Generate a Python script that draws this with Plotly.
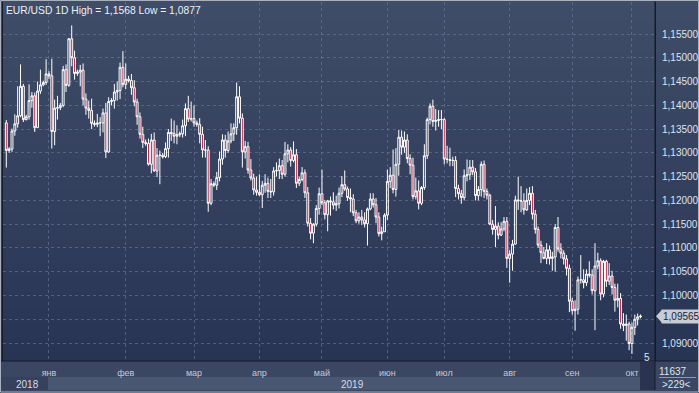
import plotly.graph_objects as go

# ---------------- data ----------------
# trading sessions (broker feed has short Sunday sessions until mid-March)
DAYS_2018_12 = [14, 16, 17, 18, 19, 20, 21, 23, 24, 25, 26, 27, 28, 30, 31]
DAYS_2019_01 = [1, 2, 3, 4, 6, 7, 8, 9, 10, 11, 13, 14, 15, 16, 17, 18, 20, 21, 22, 23, 24, 25, 27, 28, 29, 30, 31]
DAYS_2019_02 = [1, 3, 4, 5, 6, 7, 8, 10, 11, 12, 13, 14, 15, 17, 18, 19, 20, 21, 22, 24, 25, 26, 27, 28]
DAYS_2019_03 = [1, 3, 4, 5, 6, 7, 8, 10, 11, 12, 13, 14, 15, 18, 19, 20, 21, 22, 25, 26, 27, 28, 29]
DAYS_2019_04 = [1, 2, 3, 4, 5, 8, 9, 10, 11, 12, 15, 16, 17, 18, 19, 22, 23, 24, 25, 26, 29, 30]
DAYS_2019_05 = [1, 2, 3, 6, 7, 8, 9, 10, 13, 14, 15, 16, 17, 20, 21, 22, 23, 24, 27, 28, 29, 30, 31]
DAYS_2019_06 = [3, 4, 5, 6, 7, 10, 11, 12, 13, 14, 17, 18, 19, 20, 21, 24, 25, 26, 27, 28]
DAYS_2019_07 = [1, 2, 3, 4, 5, 8, 9, 10, 11, 12, 15, 16, 17, 18, 19, 22, 23, 24, 25, 26, 29, 30, 31]
DAYS_2019_08 = [1, 2, 5, 6, 7, 8, 9, 12, 13, 14, 15, 16, 19, 20, 21, 22, 23, 26, 27, 28, 29, 30]
DAYS_2019_09 = [2, 3, 4, 5, 6, 9, 10, 11, 12, 13, 16, 17, 18, 19, 20, 23, 24, 25, 26, 27, 30]
DAYS_2019_10 = [1, 2, 3, 4]

OPEN = [
    1.1363, 1.1305, 1.1308, 1.1346, 1.1361, 1.1378, 1.1440, 1.1370, 1.1376, 1.1410, 1.1420, 1.1353, 1.1430, 1.1443, 1.1448,
    1.1466, 1.1462, 1.1345, 1.1394, 1.1395, 1.1400, 1.1475, 1.1442, 1.1540, 1.1500, 1.1467, 1.1470, 1.1474, 1.1413, 1.1394,
    1.1389, 1.1362, 1.1360, 1.1363, 1.1363, 1.1384, 1.1302, 1.1408, 1.1410, 1.1428, 1.1431, 1.1480,
    1.1444, 1.1455, 1.1452, 1.1437, 1.1407, 1.1376, 1.1339, 1.1322, 1.1320, 1.1276, 1.1327, 1.1262, 1.1295, 1.1295, 1.1292,
    1.1309, 1.1343, 1.1341, 1.1335, 1.1338, 1.1340, 1.1357, 1.1393, 1.1371,
    1.1372, 1.1363, 1.1360, 1.1339, 1.1306, 1.1306, 1.1194, 1.1235, 1.1232, 1.1248, 1.1287, 1.1327, 1.1305, 1.1325, 1.1340,
    1.1353, 1.1418, 1.1373, 1.1302, 1.1313, 1.1264, 1.1247, 1.1222,
    1.1217, 1.1212, 1.1232, 1.1236, 1.1219, 1.1218, 1.1262, 1.1263, 1.1273, 1.1255, 1.1298, 1.1306, 1.1284, 1.1296, 1.1236,
    1.1244, 1.1258, 1.1216, 1.1152, 1.1131, 1.1150, 1.1183,
    1.1214, 1.1195, 1.1170, 1.1199, 1.1197, 1.1190, 1.1193, 1.1215, 1.1233, 1.1224, 1.1206, 1.1203, 1.1174, 1.1157, 1.1165,
    1.1159, 1.1151, 1.1182, 1.1203, 1.1191, 1.1165, 1.1130, 1.1134,
    1.1169, 1.1240, 1.1253, 1.1223, 1.1276, 1.1333, 1.1312, 1.1327, 1.1288, 1.1274, 1.1208, 1.1220, 1.1194, 1.1227, 1.1294,
    1.1370, 1.1398, 1.1366, 1.1368, 1.1370,
    1.1370, 1.1287, 1.1286, 1.1284, 1.1284, 1.1225, 1.1214, 1.1206, 1.1252, 1.1254, 1.1270, 1.1260, 1.1210, 1.1223, 1.1276,
    1.1219, 1.1211, 1.1150, 1.1139, 1.1146, 1.1127, 1.1140, 1.1156,
    1.1078, 1.1087, 1.1108, 1.1201, 1.1199, 1.1199, 1.1180, 1.1200, 1.1215, 1.1171, 1.1139, 1.1106, 1.1090, 1.1078, 1.1096,
    1.1078, 1.1081, 1.1143, 1.1098, 1.1089, 1.1077, 1.1057,
    1.0988, 1.0968, 1.0971, 1.1033, 1.1033, 1.1027, 1.1045, 1.1043, 1.1010, 1.1062, 1.1073, 1.1003, 1.1072, 1.1030, 1.1041,
    1.1017, 1.0990, 1.0994, 1.0940, 1.0937, 1.0940,
    1.0899, 1.0933, 1.0950, 1.0955,
]
HIGH = [
    1.1369, 1.1312, 1.1351, 1.1381, 1.1440, 1.1486, 1.1445, 1.1380, 1.1444, 1.1428, 1.1427, 1.1450, 1.1475, 1.1452, 1.1497,
    1.1472, 1.1498, 1.1412, 1.1420, 1.1405, 1.1483, 1.1486, 1.1541, 1.1568, 1.1515, 1.1475, 1.1485, 1.1488, 1.1425, 1.1410,
    1.1414, 1.1368, 1.1382, 1.1375, 1.1393, 1.1405, 1.1417, 1.1415, 1.1445, 1.1450, 1.1490, 1.1514,
    1.1488, 1.1462, 1.1466, 1.1453, 1.1414, 1.1385, 1.1355, 1.1328, 1.1330, 1.1340, 1.1343, 1.1310, 1.1305, 1.1300, 1.1322,
    1.1350, 1.1372, 1.1368, 1.1358, 1.1345, 1.1370, 1.1404, 1.1420, 1.1408,
    1.1400, 1.1368, 1.1373, 1.1355, 1.1327, 1.1314, 1.1245, 1.1240, 1.1260, 1.1303, 1.1339, 1.1338, 1.1345, 1.1362, 1.1362,
    1.1448, 1.1440, 1.1383, 1.1325, 1.1323, 1.1287, 1.1256, 1.1250,
    1.1255, 1.1241, 1.1255, 1.1248, 1.1245, 1.1270, 1.1280, 1.1288, 1.1285, 1.1323, 1.1318, 1.1312, 1.1324, 1.1308, 1.1250,
    1.1270, 1.1265, 1.1228, 1.1163, 1.1152, 1.1190, 1.1227,
    1.1265, 1.1201, 1.1201, 1.1208, 1.1217, 1.1210, 1.1227, 1.1251, 1.1263, 1.1229, 1.1225, 1.1213, 1.1180, 1.1175, 1.1180,
    1.1175, 1.1185, 1.1215, 1.1215, 1.1205, 1.1175, 1.1145, 1.1173,
    1.1265, 1.1270, 1.1307, 1.1310, 1.1348, 1.1347, 1.1345, 1.1339, 1.1297, 1.1290, 1.1248, 1.1242, 1.1230, 1.1318, 1.1374,
    1.1404, 1.1412, 1.1392, 1.1390, 1.1390,
    1.1373, 1.1315, 1.1311, 1.1292, 1.1293, 1.1233, 1.1222, 1.1265, 1.1286, 1.1285, 1.1285, 1.1268, 1.1230, 1.1282, 1.1284,
    1.1225, 1.1214, 1.1159, 1.1188, 1.1154, 1.1154, 1.1165, 1.1165,
    1.1095, 1.1117, 1.1210, 1.1250, 1.1230, 1.1215, 1.1225, 1.1228, 1.1230, 1.1180, 1.1145, 1.1115, 1.1102, 1.1110, 1.1105,
    1.1092, 1.1150, 1.1165, 1.1110, 1.1095, 1.1085, 1.1065,
    1.0995, 1.0990, 1.1040, 1.1085, 1.1055, 1.1055, 1.1072, 1.1055, 1.1110, 1.1090, 1.1078, 1.1075, 1.1075, 1.1068, 1.1052,
    1.1025, 1.1025, 1.1005, 1.0963, 1.0960, 1.0945,
    1.0943, 1.0960, 1.0962, 1.0960,
]
LOW = [
    1.1269, 1.1300, 1.1302, 1.1336, 1.1353, 1.1375, 1.1365, 1.1368, 1.1370, 1.1395, 1.1344, 1.1353, 1.1424, 1.1440, 1.1443,
    1.1455, 1.1309, 1.1316, 1.1370, 1.1390, 1.1396, 1.1428, 1.1439, 1.1482, 1.1454, 1.1462, 1.1440, 1.1400, 1.1380, 1.1372,
    1.1350, 1.1355, 1.1354, 1.1335, 1.1343, 1.1289, 1.1300, 1.1400, 1.1393, 1.1410, 1.1413, 1.1438,
    1.1434, 1.1448, 1.1422, 1.1398, 1.1359, 1.1330, 1.1310, 1.1315, 1.1273, 1.1257, 1.1260, 1.1249, 1.1234, 1.1288, 1.1289,
    1.1290, 1.1325, 1.1320, 1.1318, 1.1333, 1.1332, 1.1335, 1.1365, 1.1366,
    1.1355, 1.1355, 1.1320, 1.1290, 1.1290, 1.1176, 1.1190, 1.1228, 1.1222, 1.1240, 1.1275, 1.1290, 1.1300, 1.1320, 1.1325,
    1.1338, 1.1362, 1.1269, 1.1288, 1.1256, 1.1242, 1.1212, 1.1210,
    1.1209, 1.1184, 1.1216, 1.1205, 1.1205, 1.1210, 1.1250, 1.1245, 1.1245, 1.1250, 1.1280, 1.1271, 1.1280, 1.1226, 1.1230,
    1.1240, 1.1205, 1.1145, 1.1118, 1.1110, 1.1145, 1.1170,
    1.1190, 1.1160, 1.1135, 1.1168, 1.1181, 1.1178, 1.1183, 1.1207, 1.1220, 1.1199, 1.1175, 1.1167, 1.1152, 1.1151, 1.1148,
    1.1143, 1.1105, 1.1179, 1.1185, 1.1152, 1.1124, 1.1116, 1.1134,
    1.1159, 1.1226, 1.1215, 1.1208, 1.1252, 1.1296, 1.1300, 1.1278, 1.1255, 1.1202, 1.1202, 1.1181, 1.1190, 1.1222, 1.1287,
    1.1360, 1.1355, 1.1347, 1.1355, 1.1350,
    1.1276, 1.1278, 1.1272, 1.1272, 1.1207, 1.1202, 1.1193, 1.1200, 1.1240, 1.1243, 1.1253, 1.1200, 1.1200, 1.1208, 1.1205,
    1.1202, 1.1148, 1.1128, 1.1102, 1.1118, 1.1125, 1.1135, 1.1058,
    1.1027, 1.1052, 1.1107, 1.1180, 1.1175, 1.1170, 1.1178, 1.1190, 1.1160, 1.1130, 1.1100, 1.1068, 1.1076, 1.1066, 1.1065,
    1.1052, 1.1050, 1.1092, 1.1078, 1.1065, 1.1042, 1.0965,
    1.0960, 1.0926, 1.0960, 1.1025, 1.1015, 1.1020, 1.1038, 1.1002, 1.0927, 1.1055, 1.0990, 1.0996, 1.1018, 1.1022, 1.1002,
    1.0966, 1.0975, 1.0930, 1.0925, 1.0905, 1.0885,
    1.0877, 1.0917, 1.0937, 1.0952,
]
CLOSE = [
    1.1305, 1.1308, 1.1346, 1.1361, 1.1378, 1.1440, 1.1370, 1.1376, 1.1410, 1.1420, 1.1353, 1.1430, 1.1443, 1.1448, 1.1466,
    1.1462, 1.1345, 1.1394, 1.1395, 1.1400, 1.1475, 1.1442, 1.1540, 1.1500, 1.1467, 1.1470, 1.1474, 1.1413, 1.1394, 1.1389,
    1.1362, 1.1360, 1.1363, 1.1363, 1.1384, 1.1302, 1.1408, 1.1410, 1.1428, 1.1431, 1.1480, 1.1444,
    1.1455, 1.1452, 1.1437, 1.1407, 1.1376, 1.1339, 1.1322, 1.1320, 1.1276, 1.1327, 1.1262, 1.1295, 1.1295, 1.1292, 1.1309,
    1.1343, 1.1341, 1.1335, 1.1338, 1.1340, 1.1357, 1.1393, 1.1371, 1.1372,
    1.1363, 1.1360, 1.1339, 1.1306, 1.1306, 1.1194, 1.1235, 1.1232, 1.1248, 1.1287, 1.1327, 1.1305, 1.1325, 1.1340, 1.1353,
    1.1418, 1.1373, 1.1302, 1.1313, 1.1264, 1.1247, 1.1222, 1.1217,
    1.1212, 1.1232, 1.1236, 1.1219, 1.1218, 1.1262, 1.1263, 1.1273, 1.1255, 1.1298, 1.1306, 1.1284, 1.1296, 1.1236, 1.1244,
    1.1258, 1.1216, 1.1152, 1.1131, 1.1150, 1.1183, 1.1214,
    1.1195, 1.1170, 1.1199, 1.1197, 1.1190, 1.1193, 1.1215, 1.1233, 1.1224, 1.1206, 1.1203, 1.1174, 1.1157, 1.1165, 1.1159,
    1.1151, 1.1182, 1.1203, 1.1191, 1.1165, 1.1130, 1.1134, 1.1169,
    1.1240, 1.1253, 1.1223, 1.1276, 1.1333, 1.1312, 1.1327, 1.1288, 1.1274, 1.1208, 1.1220, 1.1194, 1.1227, 1.1294, 1.1370,
    1.1398, 1.1366, 1.1368, 1.1370, 1.1370,
    1.1287, 1.1286, 1.1284, 1.1284, 1.1225, 1.1214, 1.1206, 1.1252, 1.1254, 1.1270, 1.1260, 1.1210, 1.1223, 1.1276, 1.1219,
    1.1211, 1.1150, 1.1139, 1.1146, 1.1127, 1.1140, 1.1156, 1.1078,
    1.1087, 1.1108, 1.1201, 1.1199, 1.1199, 1.1180, 1.1200, 1.1215, 1.1171, 1.1139, 1.1106, 1.1090, 1.1078, 1.1096, 1.1078,
    1.1081, 1.1143, 1.1098, 1.1089, 1.1077, 1.1057, 1.0988,
    1.0968, 1.0971, 1.1033, 1.1033, 1.1027, 1.1045, 1.1043, 1.1010, 1.1062, 1.1073, 1.1003, 1.1072, 1.1030, 1.1041, 1.1017,
    1.0990, 1.0994, 1.0940, 1.0937, 1.0940, 1.0899,
    1.0933, 1.0950, 1.0955, 1.09565,
]

MONTH_TICKS = ["2019-01-01", "2019-02-01", "2019-03-01", "2019-04-01", "2019-05-01",
               "2019-06-03", "2019-07-01", "2019-08-01", "2019-09-02", "2019-10-01"]
MONTH_LABELS = ["янв", "фев", "мар", "апр", "май", "июн", "июл", "авг", "сен", "окт"]
PRICE_TICKS = [1.090, 1.095, 1.100, 1.105, 1.110, 1.115, 1.120, 1.125, 1.130, 1.135,
               1.140, 1.145, 1.150, 1.155]
PRICE_LABELS = ["1,09000", "", "1,10000", "1,10500", "1,11000", "1,11500", "1,12000", "1,12500",
                "1,13000", "1,13500", "1,14000", "1,14500", "1,15000", "1,15500"]
LAST_PRICE = 1.09565
TITLE = "EUR/USD 1D High = 1,1568 Low = 1,0877"

# ---------------- build ----------------
DATES = []
for prefix, days in [("2018-12", DAYS_2018_12), ("2019-01", DAYS_2019_01), ("2019-02", DAYS_2019_02),
                     ("2019-03", DAYS_2019_03), ("2019-04", DAYS_2019_04), ("2019-05", DAYS_2019_05),
                     ("2019-06", DAYS_2019_06), ("2019-07", DAYS_2019_07), ("2019-08", DAYS_2019_08),
                     ("2019-09", DAYS_2019_09), ("2019-10", DAYS_2019_10)]:
    DATES += [f"{prefix}-{d:02d}" for d in days]

n = min(len(DATES), len(OPEN), len(HIGH), len(LOW), len(CLOSE))

W, H = 699, 393
ML, MR, MT, MB = 3, 44, 2, 32
PW, PH = W - ML - MR, H - MT - MB


def px(x):  # pixel -> paper x
    return (x - ML) / PW


def py(y):  # pixel -> paper y
    return (H - MB - y) / PH


fig = go.Figure()
fig.add_trace(go.Candlestick(
    x=DATES[:n], open=OPEN[:n], high=HIGH[:n], low=LOW[:n], close=CLOSE[:n],
    increasing=dict(line=dict(color="#ffffff", width=1), fillcolor="rgba(0,0,0,0)"),
    decreasing=dict(line=dict(color="#ffffff", width=1), fillcolor="#b8163e"),
    whiskerwidth=0, showlegend=False, hoverinfo="skip",
))

shapes = []
# background gradient (plot area + right price panel)
top = (64, 77, 104)
bot = (40, 52, 84)
N = 48
step = (H - MB) / N
for i in range(N):
    t = i / (N - 1)
    c = tuple(round(top[k] + (bot[k] - top[k]) * t) for k in range(3))
    shapes.append(dict(type="rect", xref="paper", yref="paper",
                       x0=px(0), x1=px(W), y0=py(i * step), y1=py((i + 1) * step + 0.5),
                       fillcolor="rgb(%d,%d,%d)" % c, line=dict(width=0), layer="below"))
# bottom time-axis area
shapes += [
    dict(type="rect", xref="paper", yref="paper", x0=px(0), x1=px(655), y0=py(361), y1=py(377),
         fillcolor="#3b4762", line=dict(width=0), layer="below"),
    dict(type="rect", xref="paper", yref="paper", x0=px(0), x1=px(48), y0=py(377), y1=py(390),
         fillcolor="#36425c", line=dict(width=0), layer="below"),
    dict(type="rect", xref="paper", yref="paper", x0=px(48), x1=px(640), y0=py(377), y1=py(390),
         fillcolor="#4a5772", line=dict(width=0), layer="below"),
    dict(type="rect", xref="paper", yref="paper", x0=px(640), x1=px(655), y0=py(362), y1=py(390),
         fillcolor="#2a3450", line=dict(width=0), layer="below"),
    dict(type="rect", xref="paper", yref="paper", x0=px(655), x1=px(W), y0=py(361), y1=py(390),
         fillcolor="#3b4762", line=dict(width=0), layer="below"),
    dict(type="line", xref="paper", yref="paper", x0=px(0), x1=px(W), y0=py(361), y1=py(361),
         line=dict(color="#151b29", width=1)),
    dict(type="line", xref="paper", yref="paper", x0=px(655), x1=px(655), y0=py(0), y1=py(390),
         line=dict(color="#151b29", width=1)),
    dict(type="line", xref="paper", yref="paper", x0=px(659), x1=px(696), y0=py(377.5), y1=py(377.5),
         line=dict(color="#8e98aa", width=1)),
    dict(type="rect", xref="paper", yref="paper", x0=px(0.5), x1=px(W - 0.5), y0=py(0.5), y1=py(H - 1),
         line=dict(color="#a9b1bf", width=1), fillcolor="rgba(0,0,0,0)"),
    # price tag arrow
    dict(type="path", xref="paper", yref="y",
         path="M %f,%f L %f,%f L %f,%f Z" % (px(656), LAST_PRICE, px(662), LAST_PRICE + 6.5 / 4754,
                                            px(662), LAST_PRICE - 6.5 / 4754),
         fillcolor="#c8ccd5", line=dict(width=0)),
]

ann = [
    dict(x=px(4), y=py(3), xref="paper", yref="paper", xanchor="left", yanchor="top",
         text=TITLE, showarrow=False, font=dict(size=10.3, color="#eef1f6")),
    dict(x=px(661), y=LAST_PRICE, xref="paper", yref="y", xanchor="left", yanchor="middle",
         text="1,09565", showarrow=False, bgcolor="#c8ccd5", borderpad=1,
         font=dict(size=10, color="#1b2336")),
    dict(x=px(673), y=py(371), xref="paper", yref="paper", xanchor="center", yanchor="middle",
         text="11637", showarrow=False, font=dict(size=10, color="#dfe4ec")),
    dict(x=px(676), y=py(384), xref="paper", yref="paper", xanchor="center", yanchor="middle",
         text=">229<", showarrow=False, font=dict(size=10, color="#dfe4ec")),
    dict(x=px(27), y=py(384), xref="paper", yref="paper", xanchor="center", yanchor="middle",
         text="2018", showarrow=False, font=dict(size=10, color="#d5dbe4")),
    dict(x=px(352), y=py(384), xref="paper", yref="paper", xanchor="center", yanchor="middle",
         text="2019", showarrow=False, font=dict(size=10, color="#d5dbe4")),
    dict(x=px(647), y=py(357), xref="paper", yref="paper", xanchor="center", yanchor="middle",
         text="5", showarrow=False, font=dict(size=10, color="#dfe4ec")),
]

GRID = "rgba(112,128,160,0.55)"
fig.update_layout(
    width=W, height=H,
    margin=dict(l=ML, r=MR, t=MT, b=MB, autoexpand=False),
    paper_bgcolor="#3b4762", plot_bgcolor="rgba(0,0,0,0)",
    separators=", ",
    boxgap=0.05,
    font=dict(family="Liberation Sans, Arial, sans-serif", size=10, color="#dfe4ec"),
    shapes=shapes, annotations=ann,
    xaxis=dict(type="category", categoryorder="array", categoryarray=DATES[:n],
               range=[-1.16, 228.1], rangeslider=dict(visible=False),
               tickmode="array", tickvals=MONTH_TICKS, ticktext=MONTH_LABELS,
               showgrid=True, gridcolor=GRID, griddash="3px,3px", gridwidth=1,
               ticks="", tickfont=dict(size=9, color="#c3cad7"), ticklabelstandoff=5,
               showline=False, zeroline=False, fixedrange=True),
    yaxis=dict(side="right", range=[1.08622, 1.16173],
               tickmode="array", tickvals=PRICE_TICKS, ticktext=PRICE_LABELS,
               showgrid=True, gridcolor=GRID, griddash="3px,3px", gridwidth=1,
               ticks="", tickfont=dict(size=10, color="#dfe4ec"), ticklabelstandoff=4,
               showline=True, linecolor="#151b29", linewidth=1, mirror=True,
               zeroline=False, fixedrange=True),
)

fig.write_html(
    "out.html",
    config={"displayModeBar": False},
    post_script="document.body.style.margin='0';document.body.style.padding='0';"
                "document.body.style.overflow='hidden';",
)
